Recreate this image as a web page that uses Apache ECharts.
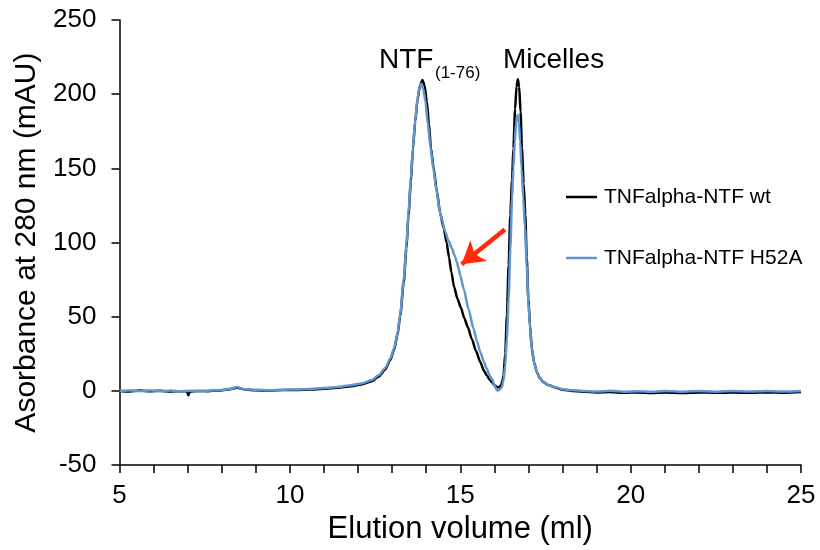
<!DOCTYPE html>
<html>
<head>
<meta charset="utf-8">
<title>Elution profile</title>
<script src="https://cdn.jsdelivr.net/npm/echarts@6/dist/echarts.min.js"></script>
<style>
  html, body { margin: 0; padding: 0; background: #fff; }
  #chart { width: 820px; height: 550px; }
</style>
</head>
<body>
<div id="chart"></div>
<script>
// Size-exclusion trace: absorbance at 280 nm (mAU) vs elution volume (ml)
const seriesNames = ['TNFalpha-NTF wt', 'TNFalpha-NTF H52A'];

const wtVolume = [
  5.0, 5.3, 5.6, 5.9, 6.2, 6.5, 6.8, 6.98, 7.02, 7.06, 7.3, 7.6, 7.9, 8.2, 8.45, 8.7,
  9.0, 9.4, 9.8, 10.2, 10.6, 11.0, 11.4, 11.8, 12.1, 12.4, 12.6, 12.8, 12.95, 13.06,
  13.16, 13.24, 13.34, 13.42, 13.48, 13.55, 13.61, 13.68, 13.75, 13.82, 13.89, 13.95,
  14.02, 14.08, 14.14, 14.22, 14.31, 14.41, 14.51, 14.6, 14.67, 14.74, 14.82, 14.92,
  15.02, 15.12, 15.22, 15.34, 15.46, 15.59, 15.70, 15.78, 15.86, 15.93, 16.0, 16.08,
  16.15, 16.2, 16.24, 16.27, 16.32, 16.37, 16.42, 16.47, 16.52, 16.56, 16.61, 16.65,
  16.69, 16.73, 16.77, 16.81, 16.86, 16.91, 16.95, 17.0, 17.05, 17.1, 17.17, 17.25,
  17.34, 17.44, 17.6, 17.83, 18.0, 18.3, 18.6, 19.0, 19.4, 19.8, 20.2, 20.6, 21.0,
  21.5, 22.0, 22.5, 23.0, 23.5, 24.0, 24.5, 25.0
];
const wtAbs = [
  0.0, -0.4, 0.2, -0.3, 0.1, -0.4, -0.2, -0.3, -3.0, -0.4, 0.0, -0.2, 0.3, 1.0, 2.2, 0.9,
  0.4, 0.3, 0.6, 0.7, 1.0, 1.4, 2.2, 3.2, 4.3, 6.5, 9.5, 14.5, 21, 28,
  38, 51, 73, 96, 118, 141, 163, 182, 197, 206, 209.5, 206,
  195, 180, 163.5, 150, 135, 120, 110, 100, 90, 80, 70, 62,
  56, 49, 43, 35, 27, 19.4, 13.5, 10.4, 7.6, 5.9, 4.0, 2.5,
  2.4, 4.0, 7, 10.4, 25, 51, 85, 118.5, 142, 163.5, 190, 205,
  210, 205, 188, 163.5, 140, 118.5, 90, 62, 43, 28.4, 19, 12.6,
  8.5, 5.9, 3.8, 2.0, 0.8, 0.0, -0.6, -1.0, -0.8, -1.3, -1.0, -1.4, -1.1,
  -1.4, -1.0, -1.3, -1.1, -1.3, -1.0, -1.2, -0.8
];

const h52aVolume = [
  5.0, 5.3, 5.6, 5.9, 6.2, 6.5, 6.8, 7.1, 7.4, 7.7, 8.0, 8.25, 8.45, 8.65,
  9.0, 9.4, 9.8, 10.2, 10.6, 11.0, 11.4, 11.8, 12.1, 12.4, 12.6, 12.8, 12.95, 13.06,
  13.16, 13.24, 13.34, 13.42, 13.48, 13.55, 13.61, 13.68, 13.75, 13.81, 13.85, 13.91,
  13.98, 14.05, 14.13, 14.21, 14.3, 14.41, 14.46, 14.56, 14.66, 14.76, 14.83, 14.9,
  14.95, 15.0, 15.1, 15.24, 15.39, 15.49, 15.59, 15.69, 15.78, 15.86, 15.93, 16.03,
  16.09, 16.15, 16.22, 16.27, 16.32, 16.37, 16.42, 16.47, 16.52, 16.56, 16.6, 16.64,
  16.68, 16.72, 16.76, 16.8, 16.85, 16.9, 16.95, 17.0, 17.05, 17.1, 17.17, 17.25,
  17.34, 17.44, 17.6, 17.83, 18.0, 18.3, 18.6, 19.0, 19.4, 19.8, 20.2, 20.6, 21.0,
  21.5, 22.0, 22.5, 23.0, 23.5, 24.0, 24.5, 25.0
];
const h52aAbs = [
  0.0, 0.3, -0.2, 0.3, -0.2, 0.2, -0.3, 0.1, -0.2, 0.3, 0.6, 1.4, 2.6, 1.2,
  0.8, 0.5, 0.8, 1.0, 1.3, 1.9, 2.7, 3.9, 5.0, 7.3, 10.5, 15.5, 22, 29,
  39, 52, 75, 98, 120, 143, 164, 183, 198, 205, 207, 204,
  195, 180, 163.5, 150, 135, 120, 115.5, 107.2, 101, 96, 91.5, 87,
  82.5, 77.9, 68.9, 55.4, 41.9, 33.5, 26.1, 19.8, 14.9, 10.5, 8.1, 2.5,
  0.2, 0.8, 2.5, 7, 17.1, 36, 62, 96, 129.7, 150, 168, 181,
  186, 181, 168, 150, 130, 110, 85, 60, 42, 28, 19, 12.8,
  8.6, 6.0, 3.9, 2.3, 1.2, 0.4, 0.0, -0.4, 0.1, -0.5, -0.2, -0.6, -0.1,
  -0.5, 0.0, -0.5, -0.1, -0.4, 0.0, -0.4, 0.0
];

// Arrow pointing at the H52A shoulder: [volume, absorbance] for tail and tip
const arrowTail = [16.31, 108.8];
const arrowTip = [15.04, 85.3];

const xTicks = { min: 5, max: 25, step: 5 };
const yTicks = { min: -50, max: 250, step: 50 };

const pairs = (xs, ys) => xs.map((x, i) => [x, ys[i]]);

const FONT = '"Liberation Sans", Arial, Helvetica, sans-serif';
const chart = echarts.init(document.getElementById('chart'), null, { renderer: 'canvas' });

const axisCommon = {
  axisLine: { show: true, onZero: false, lineStyle: { color: '#000', width: 1.5 } },
  axisTick: { show: true, inside: false, length: 8, lineStyle: { color: '#000', width: 1.5 } },
  splitLine: { show: false },
  nameLocation: 'middle',
  nameTextStyle: { color: '#000', fontFamily: FONT, fontSize: 30 }
};

chart.setOption({
  animation: false,
  backgroundColor: '#fff',
  grid: { left: 119.5, right: 19, top: 20, bottom: 84, containLabel: false },
  xAxis: Object.assign({}, axisCommon, {
    type: 'value',
    min: xTicks.min, max: xTicks.max, interval: xTicks.step,
    name: 'Elution volume (ml)',
    nameGap: 48,
    nameTextStyle: { color: '#000', fontFamily: FONT, fontSize: 31 },
    minorTick: { show: true, splitNumber: 5, length: 8, lineStyle: { color: '#000', width: 1.5 } },
    axisLabel: { color: '#000', fontFamily: FONT, fontSize: 26, margin: 18 }
  }),
  yAxis: Object.assign({}, axisCommon, {
    type: 'value',
    min: yTicks.min, max: yTicks.max, interval: yTicks.step,
    name: 'Asorbance at 280 nm (mAU)',
    nameGap: 78,
    axisLabel: { color: '#000', fontFamily: FONT, fontSize: 26, margin: 23 }
  }),
  legend: {
    orient: 'vertical',
    left: 561,
    top: 181,
    icon: 'rect',
    itemWidth: 31,
    itemHeight: 2.5,
    itemGap: 39,
    textStyle: { color: '#000', fontFamily: FONT, fontSize: 21, lineHeight: 22, padding: [0, 0, 0, 2] },
    data: seriesNames
  },
  series: [
    {
      name: seriesNames[0],
      type: 'line',
      data: pairs(wtVolume, wtAbs),
      symbol: 'none',
      smooth: 0.25,
      smoothMonotone: 'x',
      lineStyle: { color: '#000000', width: 2.5 },
      itemStyle: { color: '#000000' },
      z: 2
    },
    {
      name: seriesNames[1],
      type: 'line',
      data: pairs(h52aVolume, h52aAbs),
      symbol: 'none',
      smooth: 0.25,
      smoothMonotone: 'x',
      lineStyle: { color: '#5f96cf', width: 2.5 },
      itemStyle: { color: '#5f96cf' },
      z: 3,
      markLine: {
        silent: true,
        symbol: ['none', 'arrow'],
        symbolSize: [20, 22],
        label: { show: false },
        lineStyle: { color: '#ff2a0a', width: 4.5, type: 'solid' },
        emphasis: { disabled: true },
        data: [[{ coord: arrowTail }, { coord: arrowTip }]]
      }
    }
  ],
  graphic: [
    {
      type: 'text', left: 379, top: 46,
      style: { text: 'NTF', fill: '#000', font: '28px ' + FONT }
    },
    {
      type: 'text', left: 435, top: 65,
      style: { text: '(1-76)', fill: '#000', font: '17px ' + FONT }
    },
    {
      type: 'text', left: 503, top: 46,
      style: { text: 'Micelles', fill: '#000', font: '28px ' + FONT }
    }
  ]
});
</script>
</body>
</html>
